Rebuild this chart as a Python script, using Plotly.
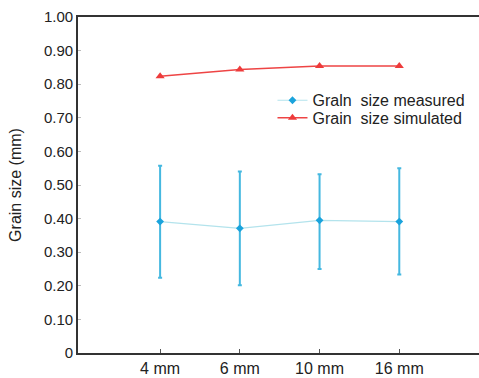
import plotly.graph_objects as go

categories = ["4 mm", "6 mm", "10 mm", "16 mm"]
measured = [0.391, 0.371, 0.395, 0.391]
measured_hi = [0.557, 0.540, 0.532, 0.550]
measured_lo = [0.224, 0.202, 0.250, 0.234]
simulated = [0.824, 0.844, 0.854, 0.854]
ytick_vals = [0, 0.1, 0.2, 0.3, 0.4, 0.5, 0.6, 0.7, 0.8, 0.9, 1.0]
ytick_text = ["0", "0.10", "0.20", "0.30", "0.40", "0.50", "0.60", "0.70", "0.80", "0.90", "1.00"]

err_plus = [h - m for h, m in zip(measured_hi, measured)]
err_minus = [m - l for m, l in zip(measured, measured_lo)]

font = "Liberation Sans, Arial, sans-serif"

fig = go.Figure()
fig.add_trace(go.Scatter(
    x=categories, y=measured, mode="lines+markers", name="Graln  size measured",
    line=dict(color="#b3e3ec", width=1.2),
    marker=dict(symbol="diamond", size=6, color="#1aa3dc"),
    error_y=dict(type="data", symmetric=False, array=err_plus, arrayminus=err_minus,
                 color="#45b8e0", thickness=2, width=2),
    legend="legend",
))
fig.add_trace(go.Scatter(
    x=categories, y=simulated, mode="lines+markers", name="Grain  size simulated",
    line=dict(color="#ee4444", width=1.5),
    marker=dict(symbol="triangle-up", size=8, color="#ee3b3b"),
    legend="legend2",
))

leg_common = dict(xanchor="left", yanchor="middle", bgcolor="rgba(0,0,0,0)",
                  font=dict(size=16, color="#222"), itemwidth=30)

fig.update_layout(
    width=479, height=378,
    margin=dict(l=78, r=0, t=17, b=25),
    paper_bgcolor="white", plot_bgcolor="white",
    font=dict(family=font, size=15, color="#222"),
    showlegend=True,
    legend=dict(x=0.485, y=0.752, **leg_common),
    legend2=dict(x=0.485, y=0.700, **leg_common),
    xaxis=dict(type="category", range=[-1.03, 4.0], showgrid=False, zeroline=False,
               showline=True, linecolor="#333", linewidth=1.6, mirror=True,
               ticks="inside", ticklen=4, tickcolor="#555",
               tickfont=dict(size=16, color="#222")),
    yaxis=dict(range=[0, 1.0], tickvals=ytick_vals, ticktext=ytick_text,
               showgrid=False, zeroline=False, showline=True, linecolor="#333",
               linewidth=1.6, ticks="inside", ticklen=3, tickcolor="#bbb",
               tickfont=dict(size=15, color="#222"),
               title=dict(text="Grain size (mm)", font=dict(size=16, color="#222"), standoff=18)),
)

fig.write_html("out.html")
